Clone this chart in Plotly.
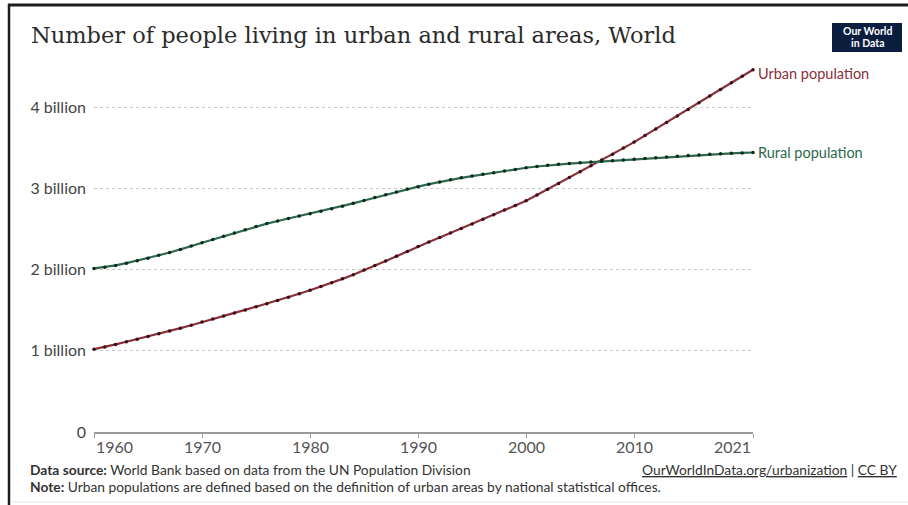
import plotly.graph_objects as go

# World Bank urban / rural population, billions
years = list(range(1960, 2022))
urban = [1.020, 1.046, 1.078, 1.111, 1.143, 1.176, 1.210, 1.243, 1.278, 1.314,
         1.354, 1.392, 1.429, 1.466, 1.503, 1.541, 1.578, 1.617, 1.658, 1.701,
         1.745, 1.790, 1.837, 1.885, 1.935, 1.995, 2.049, 2.105, 2.163, 2.223,
         2.284, 2.338, 2.393, 2.448, 2.504, 2.560, 2.617, 2.674, 2.731, 2.789,
         2.847, 2.917, 2.988, 3.060, 3.132, 3.204, 3.276, 3.348, 3.420, 3.494,
         3.568, 3.648, 3.728, 3.808, 3.889, 3.970, 4.052, 4.134, 4.216, 4.298,
         4.379, 4.458]
rural = [2.013, 2.027, 2.050, 2.078, 2.108, 2.140, 2.175, 2.210, 2.246, 2.288,
         2.330, 2.370, 2.410, 2.450, 2.490, 2.530, 2.565, 2.597, 2.627, 2.657,
         2.687, 2.717, 2.748, 2.780, 2.814, 2.850, 2.885, 2.920, 2.955, 2.990,
         3.020, 3.050, 3.078, 3.104, 3.128, 3.150, 3.172, 3.192, 3.212, 3.232,
         3.252, 3.268, 3.282, 3.294, 3.304, 3.313, 3.322, 3.331, 3.340, 3.349,
         3.358, 3.367, 3.376, 3.385, 3.394, 3.402, 3.410, 3.417, 3.424, 3.430,
         3.435, 3.440]
y_ticks = [0, 1, 2, 3, 4]
y_tick_labels = ["0", "1 billion", "2 billion", "3 billion", "4 billion"]
x_ticks = [1960, 1970, 1980, 1990, 2000, 2010, 2021]

URBAN = "#883039"
RURAL = "#2b6a4c"
W, H = 908, 505
L, R, T, B = 94, 155, 60, 73
PW, PH = W - L - R, H - T - B


def px(x):
    return (x - L) / PW


def py(y):
    return (H - B - y) / PH


fig = go.Figure()
fig.add_trace(go.Scatter(
    x=years, y=urban, mode="lines+markers", name="Urban population",
    line=dict(color=URBAN, width=2.2),
    marker=dict(size=3.5, color="#3b0d14"), cliponaxis=False))
fig.add_trace(go.Scatter(
    x=years, y=rural, mode="lines+markers", name="Rural population",
    line=dict(color=RURAL, width=2.2),
    marker=dict(size=3.5, color="#0e2a1d"), cliponaxis=False))

font = "Lato, 'Open Sans', sans-serif"
ann = []
# line end labels
ann.append(dict(x=years[-1], y=urban[-1], xref="x", yref="y", text="Urban population",
                showarrow=False, xanchor="left", yshift=-4, xshift=3,
                font=dict(family=font, size=14.5, color=URBAN)))
ann.append(dict(x=years[-1], y=rural[-1], xref="x", yref="y", text="Rural population",
                showarrow=False, xanchor="left", xshift=3,
                font=dict(family=font, size=14.5, color=RURAL)))
# x tick labels
for i, yr in enumerate(x_ticks):
    anchor = "left" if i == 0 else ("right" if i == len(x_ticks) - 1 else "center")
    ann.append(dict(x=yr, y=py(446), xref="x", yref="paper", text=str(yr),
                    showarrow=False, xanchor=anchor, yanchor="middle",
                    font=dict(family=font, size=16, color="#555")))
# title
ann.append(dict(x=px(29), y=py(35), xref="paper", yref="paper",
                text="Number of people living in urban and rural areas, World",
                showarrow=False, xanchor="left", yanchor="middle",
                font=dict(family="'DejaVu Serif', serif", size=22.5, color="#2b2b2b")))
# logo text
for txt, yy in (("Our World", 31.5), ("in Data", 43.5)):
    ann.append(dict(x=px(867), y=py(yy), xref="paper", yref="paper",
                    text="<b>" + txt + "</b>", showarrow=False,
                    xanchor="center", yanchor="middle", borderpad=0,
                    font=dict(family=font, size=10.5, color="white")))
# footer
ann.append(dict(x=px(28), y=py(470), xref="paper", yref="paper",
                text="<b>Data source:</b> World Bank based on data from the UN Population Division",
                showarrow=False, xanchor="left", yanchor="middle",
                font=dict(family=font, size=13.8, color="#333")))
ann.append(dict(x=px(28), y=py(486), xref="paper", yref="paper",
                text="<b>Note:</b> Urban populations are defined based on the definition of urban areas by national statistical offices.",
                showarrow=False, xanchor="left", yanchor="middle",
                font=dict(family=font, size=13.8, color="#333")))
ann.append(dict(x=px(899), y=py(470), xref="paper", yref="paper",
                text="<u>OurWorldInData.org/urbanization</u> | <u>CC BY</u>",
                showarrow=False, xanchor="right", yanchor="middle",
                font=dict(family=font, size=13.8, color="#333")))

shapes = [
    # frame
    dict(type="line", xref="paper", yref="paper", x0=px(8), x1=px(908), y0=py(5), y1=py(5),
         line=dict(color="#1e1e1e", width=3)),
    dict(type="line", xref="paper", yref="paper", x0=px(9), x1=px(9), y0=py(4), y1=py(505),
         line=dict(color="#1e1e1e", width=2.5)),
    dict(type="line", xref="paper", yref="paper", x0=px(10), x1=px(908), y0=py(502), y1=py(502),
         line=dict(color="#e6e6e6", width=1)),
    # logo box
    dict(type="rect", xref="paper", yref="paper", x0=px(832), x1=px(902), y0=py(23), y1=py(52),
         fillcolor="#0b1e3f", line=dict(width=0)),
]

fig.update_layout(
    width=W, height=H,
    margin=dict(l=L, r=R, t=T, b=B),
    paper_bgcolor="white", plot_bgcolor="white",
    showlegend=False,
    annotations=ann, shapes=shapes,
    xaxis=dict(range=[1960, 2021], tickvals=x_ticks, showticklabels=False,
               showgrid=False, zeroline=False, showline=True, linecolor="#9a9a9a",
               linewidth=2, ticks="outside", ticklen=4, tickcolor="#9a9a9a"),
    yaxis=dict(range=[0, 372 / 81.25], tickvals=y_ticks, ticktext=y_tick_labels,
               showgrid=True, gridcolor="#c8c8c8", griddash="dot", gridwidth=1,
               zeroline=False, showline=False, ticks="", ticklabelstandoff=7,
               tickfont=dict(family=font, size=16, color="#444")),
)

fig.write_html("out.html")
